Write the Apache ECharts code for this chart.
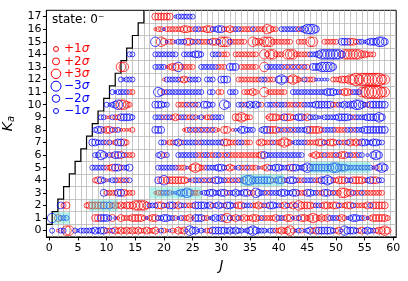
<!DOCTYPE html>
<html><head><meta charset="utf-8">
<script src="https://cdn.jsdelivr.net/npm/echarts@6/dist/echarts.min.js"></script>
<style>html,body{margin:0;padding:0;background:#fff}#c{width:408px;height:281px}</style>
</head><body><div id="c"></div>
<script>
// ---- data ----
const kaTicks = [0,1,2,3,4,5,6,7,8,9,10,11,12,13,14,15,16,17];
const jTicks = [0,5,10,15,20,25,30,35,40,45,50,55,60];
// one character per half-unit of J, starting at J = 0 (spaces are separators every 5 J)
// lower case = positive deviation (red), upper case = negative (blue)
// x/X tiny, a/A 1σ, b/B 2σ, c/C 3σ, d/D >3σ, '.' none
const rowCodes = [
 ".A.xAAcc.A XAAAAABABB aaAbababab abaabaabxA axXaxbabXC BBXAXaaBBB BBABABAAXA BCBAAAXAAa ababcaXAaX ABabBBBBBA abXCBBBAab ABAAabbcb",
 ".C.bAAA... ......bbBB BAbXxbaaab bbbaXabbAA BBAAaXAaab xBBBaaXABA BbcAabAaba abbaAaaaab AAabbXaAbb abcbababAA AabaXABBAA aXabbbbba",
 "....Bab... ...abbbbbB bBabababbb ccccbAAAbb AaBBabAAaa aBBBBABaAB AaBBAabbAA AaabaAaBBA AabAabAcbb bbaAAabbab bAaabbAaaa abAbbbbb",
 ".......... .........B aaaaBBbaaa .......xaa AAaXXABBCB aaaXAABBAA BBaAABAABB aaCBAAaAAA ABBAABBaaa BBAAaaBBaA aaccbbAaaA aaaaaaa",
 ".......... ......abBA xXAAaaAaA. ........Bb CbbbbbbbaX aAAaAaAaBB AAaaAaAaBC CBBBBBBBaA BBaABBAaaA AAAaaBBCBa abbbAAbbbb aABbbAA",
 ".......... .....AAAAA aabBBaAAB. ........AA AAAAAaaaXx bcbaaAAAAB BAabaXAaaA aaaXxabAAB BAAAbBBAAB CBBBBBBBBC CBBBAAAAAA AAAXaBCB",
 ".......... ......AACB xAaBBbAaaa ........AB aA...AAAAA AAaaAAaaAA aaAaaaaaaa aaaabBAAAA AAAAAAAAA. .xabaaAaaa AabbAAaaAA .X.BCB",
 ".......... .....BBAAA aAxaBBba.. .........A AxaaABaAAA AAaAAAAAAA AbbaaaAAaa a..abaaaAa abcbaXAAAA aaaabbAabb aAaaAbabaB BAABBAA",
 ".......... ......ABBa bbAaAxxxxa .......BBB .......xaA aAaAaAaAax .bb.xXXBBA AA..ABBbbb AaAaAaAAAA BbbbbaAAAA aaaaAAaAAA BBBBBBBB",
 ".......... ........AA xxAaaBBBBA .......AAA aAAabaAAaa AaXAxaaAAA A....bbcba a.....xbbb aaBbbaABBa bAAAXXAAAA ABBBBAaAAA ABBBBCB",
 ".......... .......... AXABCccba. .......BBB AA...aaaAa AaA.BBAA.. .CB...AAaA BABAa.AAAa AAAaaaAaaA AAABBBBBBa aAABABBCCB AaBBBBBB",
 ".......... .......... ..AXAAAAaa ........CB aAAAAAAAAA AAAA..AA.a a..AAA..aa aba..cxaaa aaa..AAAAA AAAAAAABBB AAabbaAAAc cdddddcc",
 ".......... .......... .....AXAAA .......... xAAAAAabaA AAA..AAA.. BBB...aaaa aaaaAAaaa. BCB.bcbaxA aaaXXXXX.a aabbbccdcd ddddddcc",
 ".......... .......... .....cc... .......AAA AxabbCaaaa a..AAAAAAa aa.BBB.aaa aaa..cAAAA AAaAaAaAaA a.BBBCCCCB",
 ".......... .......... ........AA .......AAA AAAAA..AAA ABBA...AAA aaa..aaaaa aaa..cacca aa.cccaaaa aAAABCCCCC CCBccccccb baaa",
 ".......... .......... .......... .......C.c bXaaXAAAbb AaAaaaAbbA cccAaaaaa. .cbbacccaa aaaaa..aaa .cc...aaaa a.BBBbbaAA XABBBCCB",
 ".......... .......... .......... .......xaa Xaaaaaabba aAAaabbAAB BaabaAAaaa aAaaaacbaa .AAAAAAaAB CCCB",
 ".......... .......... .......... .......bbb bbb.XAAAAA A"
];
// highlighted (cyan) stretches: row Ka, from J, to J
const cyanKa = [1, 2, 3, 4, 5];
const cyanJFrom = [0.7, 7.0, 17.5, 33.3, 45.5];
const cyanJTo = [3.6, 12.0, 26.5, 41.0, 56.0];
// legend entries
const legendSign = ['+', '+', '+', '\u2212', '\u2212', '\u2212'];
const legendLevel = [1, 2, 3, 3, 2, 1];
const stateLabel = 'state: 0\u207B';

// ---- build ----
const sizeOf = {x: 3, a: 5, b: 7, c: 9.5, d: 12.5};
const redPts = [], bluePts = [];
rowCodes.forEach((s, ka) => {
  const t = s.replace(/ /g, '');
  for (let i = 0; i < t.length; i++) {
    const ch = t[i];
    if (ch === '.') continue;
    const lo = ch.toLowerCase();
    (ch === lo ? redPts : bluePts).push([i / 2, ka, sizeOf[lo]]);
  }
});
const kaMax = kaTicks[kaTicks.length - 1];
const jMax = jTicks[jTicks.length - 1];
const gridSegs = [];
for (let j = 0; j < jMax; j++) gridSegs.push({coords: [[j + 0.5, -0.5], [j + 0.5, Math.min(j + 1.5, kaMax + 0.5)]]});
for (let k = 0; k < kaMax; k++) gridSegs.push({coords: [[k + 0.5, k + 0.5], [jMax + 0.5, k + 0.5]]});
const stair = [[-0.5, 0.5]];
for (let k = 0; k < kaMax; k++) { stair.push([k + 0.5, k + 0.5]); stair.push([k + 0.5, k + 1.5]); if (k + 1 < kaMax) stair.push([k + 1.5, k + 1.5]); }

const FONT = 'DejaVu Sans';
const chart = echarts.init(document.getElementById('c'), null, {renderer: 'canvas'});
const legendSizes = [5, 7, 9.5, 10, 7.5, 5];
const graphics = [{type: 'text', x: 52, y: 20, z: 100, style: {text: stateLabel, fontFamily: FONT, fontSize: 12, fill: '#000', verticalAlign: 'middle'}}];
legendSign.forEach((sg, i) => {
  const y = 49 + i * 12.4;
  const col = sg === '+' ? '#ff0000' : '#0000ff';
  graphics.push({type: 'circle', z: 100, shape: {cx: 56, cy: y, r: legendSizes[i] / 2}, style: {fill: 'none', stroke: col, lineWidth: 1}});
  graphics.push({type: 'text', z: 100, x: 64, y: y, style: {text: '{n|' + sg + legendLevel[i] + '}{s|\u03C3}', verticalAlign: 'middle', rich: {n: {fontFamily: FONT, fontSize: 12, fill: col}, s: {fontFamily: FONT, fontSize: 12, fontStyle: 'italic', fill: col}}}});
});

chart.setOption({
  animation: false,
  grid: {left: 46.4, right: 11.8, top: 10.3, bottom: 44.1, containLabel: false, outerBoundsMode: 'none', show: true, borderColor: '#000', borderWidth: 1, backgroundColor: 'transparent'},
  xAxis: {type: 'value', min: -0.5, max: jMax + 0.5, splitLine: {show: false},
    axisLine: {onZero: false, lineStyle: {color: '#000', width: 1}},
    axisTick: {customValues: jTicks, length: 3.5, lineStyle: {color: '#000'}},
    axisLabel: {customValues: jTicks, color: '#000', fontSize: 11, fontFamily: FONT, margin: 6},
    name: 'J', nameLocation: 'middle', nameGap: 22,
    nameTextStyle: {fontFamily: FONT, fontStyle: 'italic', fontSize: 14, color: '#000'}},
  yAxis: {type: 'value', min: -0.5, max: kaMax + 0.5, splitLine: {show: false},
    axisLine: {onZero: false, lineStyle: {color: '#000', width: 1}},
    axisTick: {customValues: kaTicks, length: 3.5, lineStyle: {color: '#000'}},
    axisLabel: {customValues: kaTicks, color: '#000', fontSize: 11, fontFamily: FONT, margin: 5},
    name: '{k|K}{a|a}', nameLocation: 'middle', nameGap: 26, nameRotate: 90,
    nameTextStyle: {color: '#000', rich: {k: {fontFamily: FONT, fontStyle: 'italic', fontSize: 14, color: '#000'}, a: {fontFamily: FONT, fontStyle: 'italic', fontSize: 10, color: '#000', verticalAlign: 'bottom', padding: [6, 0, 0, 0]}}}},
  graphic: graphics,
  series: [
    {type: 'lines', coordinateSystem: 'cartesian2d', polyline: false, silent: true, z: 1, data: gridSegs,
      lineStyle: {color: '#b8b8b8', width: 0.8, opacity: 1}},
    {type: 'lines', coordinateSystem: 'cartesian2d', polyline: true, silent: true, z: 2, data: [{coords: stair}],
      lineStyle: {color: '#000', width: 1.2, opacity: 1}},
    {type: 'scatter', name: 'pos', z: 3, silent: true, progressive: 0, data: redPts, symbol: 'circle',
      symbolSize: v => v[2], itemStyle: {color: 'rgba(0,0,0,0)', borderColor: '#ff0000', borderWidth: 0.9}},
    {type: 'scatter', name: 'neg', z: 3, silent: true, progressive: 0, data: bluePts, symbol: 'circle',
      symbolSize: v => v[2], itemStyle: {color: 'rgba(0,0,0,0)', borderColor: '#0000ff', borderWidth: 0.9}},
    {type: 'custom', z: 4, silent: true, encode: {x: [0, 1], y: 2},
      data: cyanKa.map((k, i) => [cyanJFrom[i], cyanJTo[i], k]),
      renderItem: (params, api) => {
        const p0 = api.coord([api.value(0), api.value(2) + 0.45]);
        const p1 = api.coord([api.value(1), api.value(2) - 0.45]);
        return {type: 'rect', shape: {x: p0[0], y: p0[1], width: p1[0] - p0[0], height: p1[1] - p0[1]}, style: {fill: 'rgba(64,224,208,0.4)'}};
      }}
  ]
});
</script></body></html>
